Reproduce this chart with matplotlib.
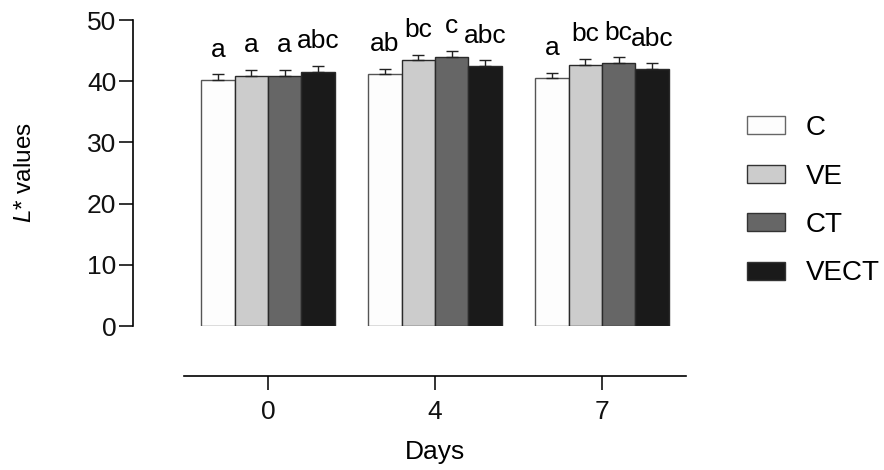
import matplotlib
matplotlib.use('Agg')
import matplotlib.pyplot as plt
from matplotlib.patches import Patch
import numpy as np

plt.rcParams['font.family'] = ['Liberation Sans', 'DejaVu Sans']
plt.rcParams['mathtext.fontset'] = 'custom'
plt.rcParams['mathtext.rm'] = 'Liberation Sans'
plt.rcParams['mathtext.it'] = 'Liberation Sans:italic'

# data
days = ['0', '4', '7']
treatments = ['C', 'VE', 'CT', 'VECT']
colors = ['#fdfdfd', '#cccccc', '#666666', '#1a1a1a']

c_mean = [40.2, 41.1, 40.5]
ve_mean = [40.9, 43.4, 42.7]
ct_mean = [40.8, 43.9, 42.9]
vect_mean = [41.5, 42.5, 42.0]

c_err = [0.9, 0.9, 0.9]
ve_err = [1.0, 0.9, 0.9]
ct_err = [1.1, 1.1, 1.0]
vect_err = [1.0, 0.9, 0.9]

c_letters = ['a', 'ab', 'a']
ve_letters = ['a', 'bc', 'bc']
ct_letters = ['a', 'c', 'bc']
vect_letters = ['abc', 'abc', 'abc']

means = [c_mean, ve_mean, ct_mean, vect_mean]
errs = [c_err, ve_err, ct_err, vect_err]
letters = [c_letters, ve_letters, ct_letters, vect_letters]

fig = plt.figure(figsize=(8.84, 4.70), dpi=100)
ax = fig.add_axes([133/884, 1 - 326/470, 552/884, 306/470])

x = np.arange(len(days))
w = 0.2
for i, name in enumerate(treatments):
    xs = x + (i - 1.5) * w
    ec = '#555555' if i == 0 else '#2a2a2a'
    ax.bar(xs, means[i], width=w, color=colors[i], edgecolor=ec, linewidth=1.0)
    ax.errorbar(xs, means[i], yerr=[np.zeros(3), errs[i]], fmt='none',
                ecolor='#222222', elinewidth=1.0, capsize=4.5, capthick=1.0)
    for j in range(len(days)):
        ax.text(xs[j], means[i][j] + errs[i][j] + 2.9, letters[i][j],
                ha='center', va='baseline', fontsize=19)

ax.set_xlim(-0.808, 2.497)
ax.set_ylim(0, 50)
ax.set_yticks([0, 10, 20, 30, 40, 50])
ax.set_xticks(x)
ax.set_xticklabels(days)

for s in ['top', 'right']:
    ax.spines[s].set_visible(False)
ax.spines['left'].set_linewidth(1.2)
ax.spines['bottom'].set_linewidth(1.2)
ax.spines['left'].set_bounds(0, 50)
ax.spines['bottom'].set_bounds(-0.5, 2.5)
ax.spines['bottom'].set_position(('outward', 36))

ax.tick_params(axis='both', length=10, width=1.2, labelsize=19, colors='#111111')
ax.tick_params(axis='y', pad=2)
ax.tick_params(axis='x', pad=7)

ax.set_ylabel('$L$* values', fontsize=17.5)
ax.yaxis.set_label_coords(-0.175, 0.5)
ax.set_xlabel('Days', fontsize=19, va='center')
ax.xaxis.set_label_coords((435 - 133) / 552, (326 - 452) / 306)

handles = []
for i, name in enumerate(treatments):
    ec = '#666666' if i == 0 else '#333333'
    handles.append(Patch(facecolor=colors[i], edgecolor=ec, linewidth=1.0, label=name))
fig.legend(handles=handles, loc='upper left', bbox_to_anchor=(747/884, 1 - 115/470),
           frameon=False, fontsize=20, borderpad=0, borderaxespad=0,
           handlelength=1.36, handleheight=0.61, handletextpad=0.76, labelspacing=0.81)

fig.savefig('out.png', dpi=100)
